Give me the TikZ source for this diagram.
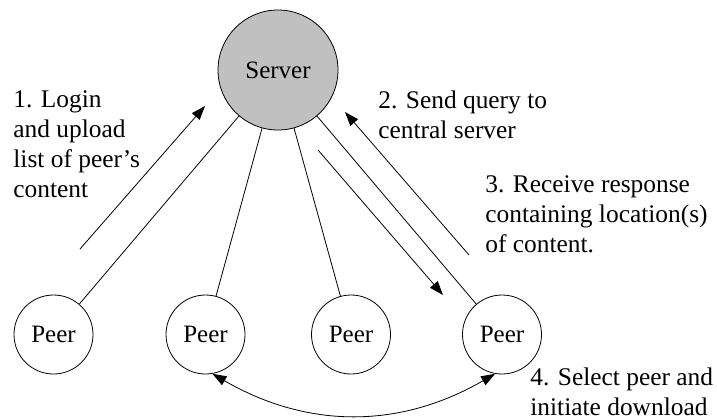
\documentclass[tikz,border=0pt]{standalone}
\usepackage{fontspec}
\setmainfont{Liberation Serif}
\usetikzlibrary{arrows.meta}
\definecolor{srvgray}{RGB}{192,192,192}

\begin{document}
\begin{tikzpicture}[x=0.5pt,y=-0.5pt,
		>={Triangle[length=7pt,width=5pt]},
		station/.style={circle,draw,inner sep=0pt,minimum size=39.5pt,font=\fontsize{12.5}{15}\selectfont},
		note/.style={anchor=north west,inner sep=0pt,align=left,font=\fontsize{12.7}{15}\selectfont}]
			\useasboundingbox (0,0) rectangle (717,419);
			
			\node[station,fill=srvgray,minimum size=60pt] (srv) at (278,70) {Server};
			\node[station] (p1) at (53.5,334.5) {Peer};
			\node[station] (p2) at (205.5,334.5) {Peer};
			\node[station] (p3) at (351,334.5) {Peer};
			\node[station] (p4) at (502,334.5) {Peer};
			
			\draw (srv) -- (p1);
			\draw (srv) -- (p2);
			\draw (srv) -- (p3);
			\draw (srv) -- (p4);
			
			% message arrows
			\coordinate (log0) at (80,249);
			\coordinate (log1) at (205,106);
			\coordinate (qry0) at (469,255);
			\coordinate (qry1) at (345,112);
			\coordinate (rsp0) at (318,150);
			\coordinate (rsp1) at (443,295);
			\draw[->] (log0) -- (log1);
			\draw[->] (qry0) -- (qry1);
			\draw[->] (rsp0) -- (rsp1);
			\draw[<->] (p2.-80) to[bend right=30] (p4.-100);
			
			\node[note] (n1) at (13,90) {1. Login\\and upload\\list of peer’s\\content};
			\node[note] (n2) at (378,90) {2. Send query to\\central server};
			\node[note] (n3) at (485,175) {3. Receive response\\containing location(s)\\of content.};
			\node[note] (n4) at (530,367) {4. Select peer and\\initiate download};
		\end{tikzpicture}
\end{document}
